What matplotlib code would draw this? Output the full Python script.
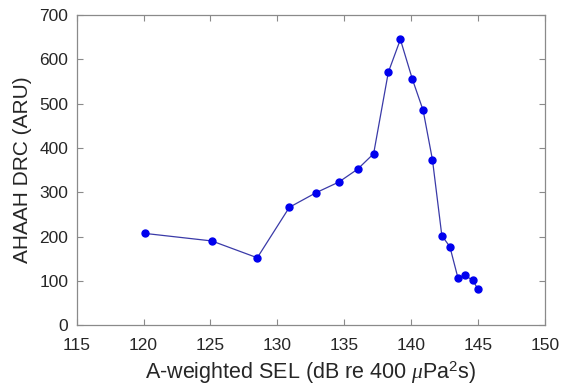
import numpy as np
import matplotlib.pyplot as plt

plt.rcParams['font.family'] = ['Liberation Sans', 'DejaVu Sans']
plt.rcParams['mathtext.fontset'] = 'custom'
plt.rcParams['mathtext.rm'] = 'Liberation Sans'
plt.rcParams['mathtext.it'] = 'Liberation Serif:italic'

# A-weighted SEL (dB) vs AHAAH damage risk criterion (ARU)
sel = [120.1, 125.1, 128.5, 130.9, 132.9, 134.6, 136.0, 137.2, 138.3, 139.2,
       140.1, 140.9, 141.6, 142.3, 142.9, 143.5, 144.0, 144.6, 145.0]
drc = [207, 190, 152, 266, 299, 323, 352, 387, 571, 645,
       555, 485, 373, 202, 177, 107, 112, 102, 81]

xticks = [115, 120, 125, 130, 135, 140, 145, 150]
yticks = [0, 100, 200, 300, 400, 500, 600, 700]

fig = plt.figure(figsize=(5.64, 3.87), dpi=100)
ax = fig.add_axes([0.136, 0.160, 0.830, 0.801])

ax.plot(sel, drc, '-', color='#3a3aa8', lw=0.9, zorder=2)
ax.plot(sel, drc, 'o', color='#0000ee', ms=5, mec='#0000ee', zorder=3)

ax.set_xlim(115, 150)
ax.set_ylim(0, 700)
ax.set_xticks(xticks)
ax.set_yticks(yticks)

for s in ax.spines.values():
    s.set_color('#8a8a8a')
    s.set_linewidth(0.9)
ax.tick_params(direction='in', length=4, width=0.8, color='#8a8a8a',
               top=True, right=True, labelsize=12.5, labelcolor='#262626')
ax.tick_params(axis='x', pad=9)
ax.tick_params(axis='y', pad=6)

ax.set_xlabel(r'A-weighted SEL (dB re 400 $\mu$Pa$^2$s)', fontsize=15.5,
              color='#262626', labelpad=5)
ax.set_ylabel('AHAAH DRC (ARU)', fontsize=15, color='#262626', labelpad=5)

fig.savefig('out.png', dpi=100)
